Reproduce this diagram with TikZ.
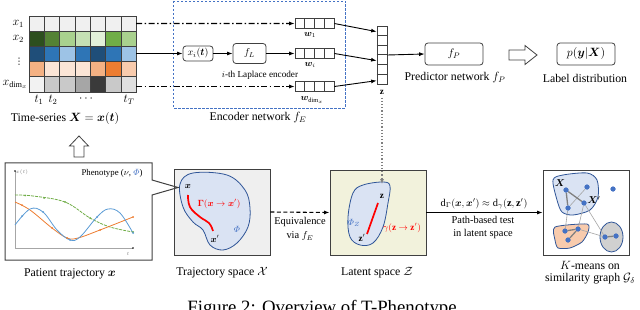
\documentclass[tikz,border=0pt]{standalone}
\usepackage{amsmath,bm}
\usepackage{fontspec}
\setmainfont{Liberation Serif}
\newfontfamily\djvfont{DejaVu Sans}
\usetikzlibrary{arrows.meta,calc}
\definecolor{dk}{HTML}{404040}
\definecolor{bluedge}{HTML}{2F5597}
\definecolor{blobfill}{HTML}{DAE3F3}
\definecolor{trajfill}{HTML}{EFEFEF}
\definecolor{latfill}{HTML}{F2F2DC}
\definecolor{redp}{HTML}{FF0000}
\definecolor{phib}{HTML}{4472C4}
\definecolor{dotb}{HTML}{4472C4}
\definecolor{gcurve}{HTML}{70AD47}
\definecolor{ocurve}{HTML}{ED7D31}
\definecolor{bcurve}{HTML}{5B9BD5}
\definecolor{orfill}{HTML}{F8CBAD}
\definecolor{grfill}{HTML}{D0D0D0}
\definecolor{edgeg}{HTML}{808080}
\definecolor{edgel}{HTML}{A6A6A6}
\tikzset{
  lab/.style={font=\fontsize{11.8}{13}\selectfont},
  smalllab/.style={font=\fontsize{10.4}{12}\selectfont},
  tinylab/.style={font=\fontsize{9.2}{10.5}\selectfont},
  cellborder/.style={draw=dk,line width=0.6pt},
  vecbox/.style={draw=dk,line width=0.7pt,fill=white,minimum width=39pt,minimum height=9.5pt,inner sep=0pt},
  rbox/.style={draw=dk,line width=0.8pt,rounded corners=3pt,fill=white,inner sep=1pt},
  sbox/.style={draw=dk,line width=0.9pt,inner sep=0pt},
  arr/.style={-{Latex[length=5.5pt,width=4pt]},line width=0.9pt},
  dashdotline/.style={line width=1.2pt,dash pattern=on 6pt off 2.5pt on 1.5pt off 2.5pt},
  blob/.style={draw=bluedge,line width=0.8pt,fill=blobfill},
  gdot/.style={circle,fill=dotb,inner sep=0pt,minimum size=5pt},
  thickedge/.style={draw=edgeg,line width=1.3pt},
  thinedge/.style={draw=edgel,line width=0.6pt},
}
\begin{document}
\begin{tikzpicture}[x=1pt,y=-1pt]
\useasboundingbox (0,0) rectangle (640,310);
% ---------- heatmap ----------
\foreach \r/\rowlist in {0/{F0F0F0,F0F0F0,F0F0F0,F0F0F0,F0F0F0,F0F0F0,F0F0F0},
  1/{2D4F1E,548235,A9D18E,C5E0B4,E2F0D9,70AD47,A9D18E},
  2/{1F4E79,2E75B6,9DC3E6,2E75B6,1F4E79,2E75B6,9DC3E6},
  3/{F4B183,FBE5D6,FBE5D6,FBE5D6,F4B183,ED7D31,F8CBAD},
  4/{F2F2F2,C9C9C9,C9C9C9,A6A6A6,3A3A3A,C9C9C9,E0E0E0}}{
  \foreach \c [count=\k from 0] in \rowlist {
    \definecolor{cellc}{HTML}{\c}
    \draw[cellborder,fill=cellc] (29+\k*15.3,16+\r*15.2) rectangle ++(15.3,15.2);
  }
}
\node[lab,anchor=east] (lx1) at (27.5,23.6) {$x_1$};
\node[lab,anchor=east] (lx2) at (27.5,38.8) {$x_2$};
\node[font=\fontsize{9}{9}\selectfont\djvfont,inner sep=0pt] (lxd) at (19,62) {⋮};
\node[lab,anchor=east,inner xsep=1pt] (lxn) at (28.5,84.4) {$x_{\mathrm{dim}_x}$};
\node[lab] (t1) at (39,100) {$t_1$};
\node[lab] (t2) at (53,100) {$t_2$};
\node[lab] (tdots) at (87,99) {$\cdots$};
\node[lab] (tT) at (129,100) {$t_T$};
\node[lab] (tslab) at (65,119) {Time-series $\bm{X}=\bm{x}(\bm{t})$};
\coordinate (g1) at (136.1,23.6);
\coordinate (g3) at (136.1,53.5);
\coordinate (g5) at (136.1,86.5);
% ---------- encoder ----------
\draw[phib,line width=0.8pt,dash pattern=on 2.5pt off 1.5pt] (173,1) rectangle (345,108);
\node[lab] (enclab) at (258,118) {Encoder network $f_E$};
\node[rbox,minimum width=30pt,minimum height=15pt] (xi) at (198,53.5) {$x_i(\bm{t})$};
\node[rbox,minimum width=33pt,minimum height=20pt] (fL) at (249.5,53.5) {$f_L$};
\node[tinylab] (lapl) at (260,75.5) {$i$-th Laplace encoder};
\foreach \n/\yy in {w1/23.5,wi/53.5,wd/86.5}{
  \node[vecbox] (\n) at (314.5,\yy) {};
  \foreach \k in {1,2,3}{\draw[dk,line width=0.6pt] ($(\n.north west)+(\k*9.75,0)$) -- ($(\n.south west)+(\k*9.75,0)$);}
}
\node[tinylab] (w1lab) at (310,35) {$\bm{w}_1$};
\node[tinylab] (wilab) at (310,65) {$\bm{w}_i$};
\node[tinylab] (wdlab) at (312,100) {$\bm{w}_{\mathrm{dim}_x}$};
\draw[arr,dashdotline] (g1) -- (w1.west);
\draw[arr] (g3) -- (xi.west);
\draw[arr] (xi) -- (fL);
\draw[arr] (fL) -- (wi.west);
\draw[arr,dashdotline] (g5) -- (wd.west);
% z vector
\node[draw=dk,line width=0.7pt,fill=white,minimum width=10pt,minimum height=58pt,inner sep=0pt] (zv) at (382,55) {};
\foreach \k in {1,...,5}{\draw[dk,line width=0.6pt] ($(zv.north west)+(0,\k*9.667)$) -- ($(zv.north east)+(0,\k*9.667)$);}
\node[tinylab] (zlab) at (382,92) {$\mathbf{z}$};
\draw[arr] (w1.east) -- ($(zv.north west)+(0,6)$);
\draw[arr] (wi.east) -- ($(zv.north west)+(0,35)$);
\draw[arr] (wd.east) -- ($(zv.north west)+(0,55)$);
% predictor
\node[rbox,minimum width=58pt,minimum height=22pt,font=\fontsize{11}{13}\selectfont] (fP) at (454,54) {$f_P$};
\node[lab] (fPlab) at (455,78) {Predictor network $f_P$};
\draw[arr] (zv.east) -- (fP.west);
\draw[dk,line width=0.8pt] (509,50) -- (525,50) -- (525,45.5) -- (537,55) -- (525,64.5) -- (525,60) -- (509,60) -- cycle;
\node[rbox,minimum width=58pt,minimum height=22pt,font=\fontsize{12}{13}\selectfont] (py) at (586,54) {$p(\bm{y}|\bm{X})$};
\node[lab] (pylab) at (585,78) {Label distribution};
% up block arrow
\draw[dk,line width=0.8pt] (79,136) -- (88.5,146) -- (84,146) -- (84,157) -- (74,157) -- (74,146) -- (69.5,146) -- cycle;
% ---------- trajectory space ----------
\node[sbox,fill=trajfill,minimum width=96pt,minimum height=86pt] (traj) at (222,212) {};
\draw[blob] plot[smooth cycle,tension=0.6] coordinates {(180,184) (193,173) (227,175) (245,190) (250,208) (248,227) (237,243) (223,250) (210,245) (203,230) (193,222) (183,207)};
\draw[redp,line width=1.7pt] plot[smooth,tension=0.7] coordinates {(188,195) (190,207) (200,217) (209,223) (213,231)};
\node[tinylab] (xlab) at (188,186) {$\bm{x}$};
\node[tinylab] (xplab) at (215,239) {$\bm{x}'$};
\node[tinylab,text=redp] (gamlab) at (219,204) {$\bm{\Gamma}(\bm{x}\to\bm{x}')$};
\node[tinylab,text=phib] (philab) at (237,229) {$\varPhi$};
\coordinate (tip) at (178,187.5);
% ---------- patient trajectory ----------
\draw[dk,line width=1pt] (5,163) -- (152,163) -- (152,180) -- (tip) -- (152,195) -- (152,260) -- (5,260) -- cycle;
\draw[gray!70,line width=0.4pt] (15,171) -- (15,248) -- (133,248);
\fill[black] (15,171) circle (0.8);
\fill[black] (133,248) circle (0.8);
\node[font=\fontsize{4}{5}\selectfont,text=gray] (xtl) at (22,172) {$x(t)$};
\node[font=\fontsize{4}{5}\selectfont,text=gray] (tl) at (128,254) {$t$};
\node[font=\fontsize{8.8}{10}\selectfont] (phen) at (112,173) {Phenotype ($\nu$, \textcolor{phib}{$\varPhi$})};
\draw[gcurve,line width=0.8pt,dash pattern=on 3pt off 1pt] plot[smooth,tension=0.6] coordinates {(15,195) (33,196) (65,202) (90,218) (110,227) (133,232)};
\draw[ocurve,line width=0.8pt] plot[smooth,tension=0.6] coordinates {(15,202) (30,210) (52,228) (67,238) (78,238) (100,230) (133,217)};
\draw[bcurve,line width=0.8pt] plot[smooth,tension=0.6] coordinates {(15,225) (30,209) (43,212) (57,230) (70,240) (80,237) (97,217) (108,209) (120,213) (133,233)};
\foreach \p in {(25,195.5),(44,198),(65,202),(90,218),(133,232)} \fill[gcurve] \p circle (1);
\foreach \p in {(22,205),(52,228),(67,238),(100,230),(133,217)} \fill[ocurve] \p circle (1);
\foreach \p in {(22,216),(43,212),(70,240),(97,217),(133,233)} \fill[bcurve] \p circle (1);
\node[lab] (ptlab) at (70,274) {Patient trajectory $\bm{x}$};
\node[lab] (trajlab) at (222,273) {Trajectory space $\mathcal{X}$};
% ---------- latent space ----------
\node[sbox,fill=latfill,minimum width=96pt,minimum height=85pt] (lat) at (378,212.5) {};
\draw[blob] plot[smooth cycle,tension=0.6] coordinates {(353,193) (363,185) (383,182) (390,186) (388,203) (383,227) (373,243) (360,245) (350,237) (348,217)};
\draw[redp,line width=1.7pt] (378,203) -- (367,234);
\node[tinylab] (zin) at (382,196) {$\mathbf{z}$};
\node[tinylab] (zpin) at (362,238) {$\mathbf{z}'$};
\node[tinylab,text=phib] (phiz) at (354,223) {$\varPhi_Z$};
\node[tinylab,text=redp] (gz) at (402,228) {$\gamma(\mathbf{z}\to\mathbf{z}')$};
\coordinate (ztop) at (382,184);
\draw[edgeg,line width=1.2pt,dotted,-{Latex[length=5pt,width=4pt]}] (zlab.south) -- (ztop);
\node[lab] (latlab) at (377,273) {Latent space $\mathcal{Z}$};
\draw[arr,dash pattern=on 4pt off 2.5pt,line width=1.1pt] (traj.east) -- (lat.west);
\node[smalllab] (eq1) at (300,222) {Equivalence};
\node[smalllab] (eq2) at (300,236) {via $f_E$};
% ---------- cluster ----------
\node[sbox,fill=white,minimum width=86pt,minimum height=85pt] (clu) at (586,212.5) {};
\draw[arr] (lat.east) -- (clu.west);
\node[smalllab] (dlab) at (484,204) {$\mathrm{d}_\Gamma(\bm{x},\bm{x}')\approx\mathrm{d}_\gamma(\mathbf{z},\mathbf{z}')$};
\node[smalllab] (pb1) at (483,220) {Path-based test};
\node[smalllab] (pb2) at (483,234) {in latent space};
\draw[blob] plot[smooth cycle,tension=0.5] coordinates {(553,180) (563,175) (587,173) (597,180) (598,197) (590,210) (573,215) (562,212) (557,200)};
\draw[blob,fill=orfill] plot[smooth cycle,tension=0.4] coordinates {(555,227) (587,224) (588,232) (582,242) (570,248) (558,248) (555,240)};
\draw[blob,fill=grfill] (611.5,237) ellipse (11.5 and 15);
\node[gdot] (nX) at (566,190) {};
\node[gdot] (n2) at (587,187) {};
\node[gdot] (n3) at (613,189) {};
\node[gdot] (nXp) at (584,203) {};
\node[gdot] (n5) at (568,208) {};
\node[gdot] (o1) at (565,231) {};
\node[gdot] (o2) at (578,229) {};
\node[gdot] (o3) at (568,240) {};
\node[gdot] (q1) at (605,237) {};
\node[gdot] (q2) at (616,236) {};
\draw[thinedge] (n5) -- (o1);
\draw[thinedge] (nXp) -- (o2);
\draw[thinedge] (nXp) -- (q1);
\draw[thinedge] (o2) -- (q1);
\draw[thinedge] (n5) -- (n2);
\draw[thickedge] (nX) -- (nXp);
\draw[thickedge] (nX) -- (n5);
\draw[thickedge] (o1) -- (o2);
\draw[thickedge] (o2) -- (o3);
\draw[thickedge] (q1) -- (q2);
\foreach \n in {nX,n2,n3,nXp,n5,o1,o2,o3,q1,q2} \fill[dotb] (\n) circle (2.5);
\node[smalllab] (Xl) at (560,183) {$\bm{X}$};
\node[smalllab] (Xpl) at (594,200) {$\bm{X}'$};
\node[lab] (km1) at (590,265) {$K$-means on};
\node[lab] (km2) at (590,279) {similarity graph $\mathcal{G}_\delta$};
% caption
\node[font=\fontsize{18.8}{22}\selectfont,anchor=base] (cap) at (322,313) {Figure 2: Overview of T-Phenotype};
\end{tikzpicture}
\end{document}
